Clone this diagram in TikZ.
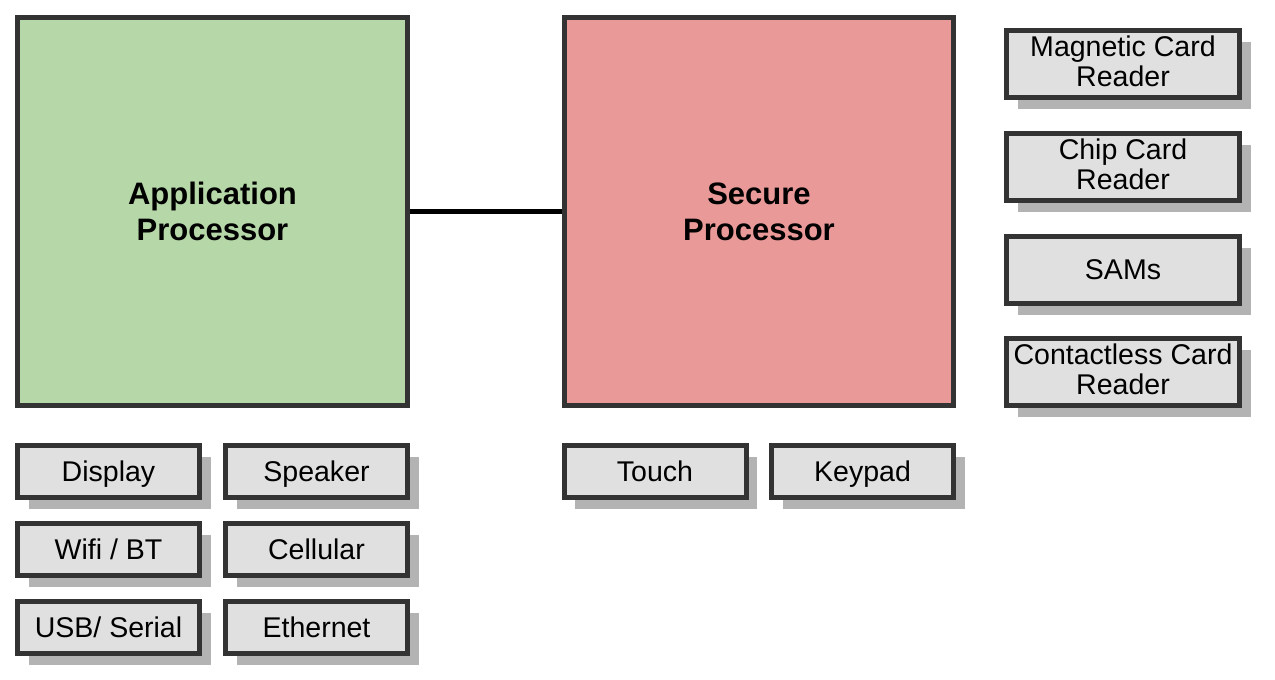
\documentclass[tikz,border=0pt]{standalone}
\usepackage{fontspec}
\setmainfont{Liberation Sans}
\usetikzlibrary{shadows}
\definecolor{bordercol}{HTML}{333333}
\definecolor{apfill}{HTML}{B6D7A8}
\definecolor{spfill}{HTML}{EA9999}
\definecolor{boxfill}{HTML}{E0E0E0}
\definecolor{shadowcol}{HTML}{B3B3B3}
\newcommand{\myextradepth}[1]{\raisebox{0pt}[\height][\dimexpr\depth+4.5pt\relax]{#1}}
\tikzset{
  bigbox/.style={draw=bordercol, line width=3.75pt, inner sep=0pt, align=center,
    font=\fontsize{23.25pt}{27pt}\selectfont\bfseries},
  smallbox/.style={draw=bordercol, line width=3.75pt, fill=boxfill, inner sep=0pt, align=center,
    font=\fontsize{21.4pt}{22.5pt}\selectfont,
    drop shadow={shadow xshift=8.25pt, shadow yshift=-8.25pt, fill=shadowcol, opacity=1}},
  rowbox/.style={smallbox, minimum width=136.5pt, minimum height=39pt, text height=15.5pt, text depth=0pt},
  sidebox/.style={smallbox, minimum width=174.75pt, minimum height=50.25pt},
  link/.style={draw=black, line width=3.5pt}
}
\begin{document}
\begin{tikzpicture}[x=0.75pt, y=-0.75pt]
\useasboundingbox (0,0) rectangle (1275,679);
\node[bigbox, fill=apfill, minimum width=292.5pt, minimum height=291pt] (ap) at (212.5,211.5) {Application\\Processor};
\node[bigbox, fill=spfill, minimum width=291.75pt, minimum height=291pt] (sp) at (759,211.5) {Secure\\Processor};
\draw[link] (ap.east) -- (sp.west);

\node[rowbox] (display) at (108.5,471.5) {Display};
\node[rowbox] (speaker) at (316.5,471.5) {Speaker};
\node[rowbox] (wifi) at (108.5,549.5) {Wifi / BT};
\node[rowbox] (cell) at (316.5,549.5) {Cellular};
\node[rowbox] (usb) at (108.5,627.5) {USB/ Serial};
\node[rowbox] (eth) at (316.5,627.5) {Ethernet};

\node[rowbox] (touch) at (655,471.5) {Touch};
\node[rowbox] (keypad) at (862.5,471.5) {Keypad};

\node[sidebox] (mag) at (1123,64) {Magnetic Card\\\myextradepth{Reader}};
\node[sidebox] (chip) at (1123,167) {Chip Card\\\myextradepth{Reader}};
\node[sidebox] (sams) at (1123,270) {SAMs};
\node[sidebox] (cless) at (1123,372) {Contactless Card\\\myextradepth{Reader}};
\end{tikzpicture}
\end{document}
